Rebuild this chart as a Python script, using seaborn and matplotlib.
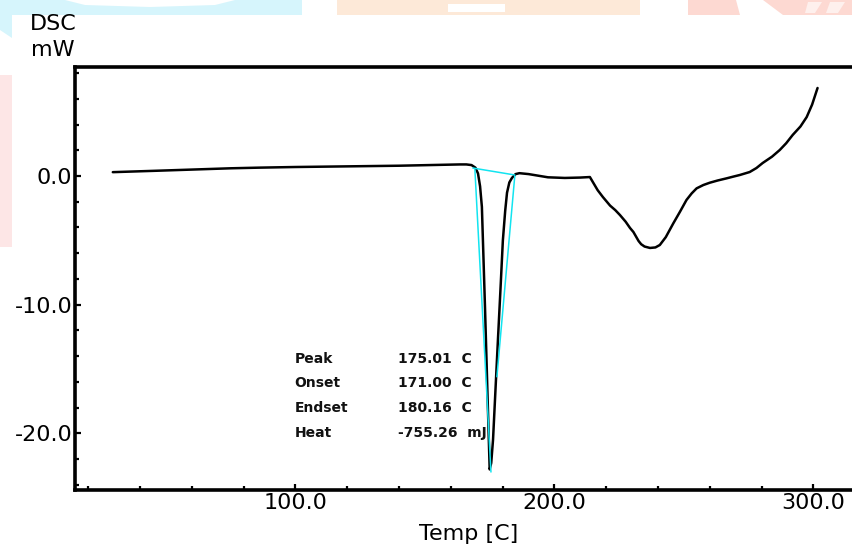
import numpy as np
import pandas as pd
import matplotlib
matplotlib.use("Agg")
import matplotlib.pyplot as plt
from matplotlib.patches import Polygon
from matplotlib.ticker import MultipleLocator, FormatStrFormatter
import seaborn as sns

# DSC heating curve (temperature in C, heat flow in mW)
temp = [29.5, 45.0, 60.0, 75.0, 86.0, 100.0, 120.0, 140.0, 163.5, 166.0,
        168.0, 169.5, 170.5, 171.3, 172.0, 173.2, 174.3, 175.01, 175.6, 176.3,
        177.2, 178.2, 179.2, 180.1, 181.0, 181.7, 182.6, 183.6, 185.0, 186.5,
        190.0, 197.5, 204.0, 210.0, 213.7, 216.7, 218.7, 221.5, 223.5, 225.3,
        227.5, 229.2, 230.5, 231.5, 232.5, 233.5, 234.8, 236.9, 239.0, 240.7,
        243.0, 245.9, 248.5, 251.0, 253.0, 254.9, 257.5, 260.0, 263.0, 266.5,
        269.0, 271.6, 275.4, 278.0, 280.4, 284.0, 287.0, 289.5, 292.0, 295.0,
        297.4, 299.5, 301.6]
heat_flow = [0.30, 0.40, 0.50, 0.60, 0.65, 0.70, 0.75, 0.80, 0.90, 0.90,
             0.85, 0.65, 0.20, -0.80, -2.40, -10.2, -17.9, -22.8, -22.3, -20.5,
             -16.8, -12.7, -8.7, -5.0, -2.7, -1.3, -0.5, -0.15, 0.15, 0.22,
             0.15, -0.10, -0.15, -0.12, -0.08, -1.10, -1.63, -2.30, -2.65, -3.03,
             -3.55, -4.04, -4.35, -4.70, -5.05, -5.30, -5.48, -5.59, -5.55, -5.36,
             -4.75, -3.68, -2.77, -1.86, -1.35, -0.96, -0.70, -0.52, -0.35, -0.18,
             -0.05, 0.08, 0.31, 0.62, 1.01, 1.50, 2.02, 2.55, 3.19, 3.85,
             4.58, 5.55, 6.84]

# Baseline and tangent construction lines of the melting peak
base_t = [168.5, 184.7]
base_q = [0.62, 0.08]
left_tan_t = [169.3, 175.5]
left_tan_q = [0.50, -23.0]
right_tan_t = [184.7, 177.8]
right_tan_q = [0.00, -15.6]

# Peak analysis results
result_names = ["Peak", "Onset", "Endset", "Heat"]
result_values = ["175.01  C", "171.00  C", "180.16  C", "-755.26  mJ"]

x_ticks = [100.0, 200.0, 300.0]
y_ticks = [0.0, -10.0, -20.0]

sns.set_theme(style="white")
plt.rcParams["font.family"] = ["DejaVu Sans"]
plt.rcParams["axes.unicode_minus"] = False
plt.rcParams["text.color"] = "black"
plt.rcParams["axes.labelcolor"] = "black"
plt.rcParams["xtick.color"] = "black"
plt.rcParams["ytick.color"] = "black"

W, H = 852, 545
fig = plt.figure(figsize=(W / 100, H / 100), dpi=100)
fig.patch.set_facecolor("white")

# faint coloured page decoration along the top edge
def px_poly(pts, color):
    xy = [(x / W, 1 - y / H) for x, y in pts]
    fig.patches.append(Polygon(xy, closed=True, transform=fig.transFigure,
                               facecolor=color, edgecolor="none", zorder=0))

px_poly([(0, 0), (302, 0), (302, 15), (12, 15), (12, 38), (0, 30)], "#d6f5fc")
px_poly([(65, 0), (235, 0), (215, 5), (150, 7), (85, 5)], "white")
px_poly([(337, 0), (640, 0), (640, 15), (337, 15)], "#fde9d8")
px_poly([(448, 4), (505, 4), (505, 12), (448, 12)], "white")
px_poly([(688, 0), (736, 0), (740, 15), (688, 15)], "#fdd9d2")
px_poly([(763, 0), (852, 0), (852, 15), (783, 15)], "#fdd9d2")
px_poly([(808, 2), (822, 2), (815, 13), (805, 13)], "#fef0ed")
px_poly([(830, 2), (845, 2), (838, 13), (826, 13)], "#fef0ed")
px_poly([(0, 75), (12, 75), (12, 247), (0, 247)], "#fde6e6")

ax_left, ax_right, ax_top, ax_bottom = 75, 852, 66.5, 489.5
ax = fig.add_axes([ax_left / W, 1 - ax_bottom / H,
                   (ax_right - ax_left) / W, (ax_bottom - ax_top) / H])
ax.set_facecolor("none")

df = pd.DataFrame({"temp": temp, "heat_flow": heat_flow})
sns.lineplot(data=df, x="temp", y="heat_flow", sort=False, ax=ax,
             color="black", linewidth=1.8, zorder=3)

for tx, qy in [(base_t, base_q), (left_tan_t, left_tan_q), (right_tan_t, right_tan_q)]:
    sns.lineplot(x=tx, y=qy, sort=False, ax=ax, color="#12e4f0",
                 linewidth=1.1, zorder=4)

ax.set_xlim(14.9, 314.9)
ax.set_ylim(-24.36, 8.51)
ax.set_xlabel("")
ax.set_ylabel("")

ax.xaxis.set_major_locator(MultipleLocator(100))
ax.xaxis.set_minor_locator(MultipleLocator(20))
ax.yaxis.set_major_locator(MultipleLocator(10))
ax.yaxis.set_minor_locator(MultipleLocator(2))
ax.set_xticks(x_ticks)
ax.set_yticks(y_ticks)
ax.xaxis.set_major_formatter(FormatStrFormatter("%.1f"))
ax.yaxis.set_major_formatter(FormatStrFormatter("%.1f"))

for side in ["left", "bottom", "top"]:
    ax.spines[side].set_visible(True)
    ax.spines[side].set_color("black")
    ax.spines[side].set_linewidth(2.6)
ax.spines["right"].set_visible(False)

ax.tick_params(axis="both", which="both", direction="in", colors="black",
               labelcolor="black", top=False, right=False, left=True, bottom=True)
ax.tick_params(axis="both", which="major", length=4.5, width=1.6, labelsize=16)
ax.tick_params(axis="both", which="minor", length=2.8, width=1.6)
ax.tick_params(axis="y", which="major", pad=1.8)
ax.tick_params(axis="x", which="major", pad=2.5)

row_y = [-14.2, -16.1, -18.0, -19.95]
for name, val, yy in zip(result_names, result_values, row_y):
    ax.text(99.6, yy, name, fontsize=10, fontweight="bold", ha="left",
            va="center", color="#111111", zorder=5)
    ax.text(139.6, yy, val, fontsize=10, fontweight="bold", ha="left",
            va="center", color="#111111", zorder=5)

fig.text(53 / W, 1 - 24 / H, "DSC", fontsize=16, ha="center", va="center",
         color="black")
fig.text(53 / W, 1 - 50 / H, "mW", fontsize=16, ha="center", va="center",
         color="black")
fig.text(468.5 / W, 1 - 540 / H, "Temp [C]", fontsize=16, ha="center",
         va="baseline", color="black")

fig.savefig("out.png", dpi=100)
